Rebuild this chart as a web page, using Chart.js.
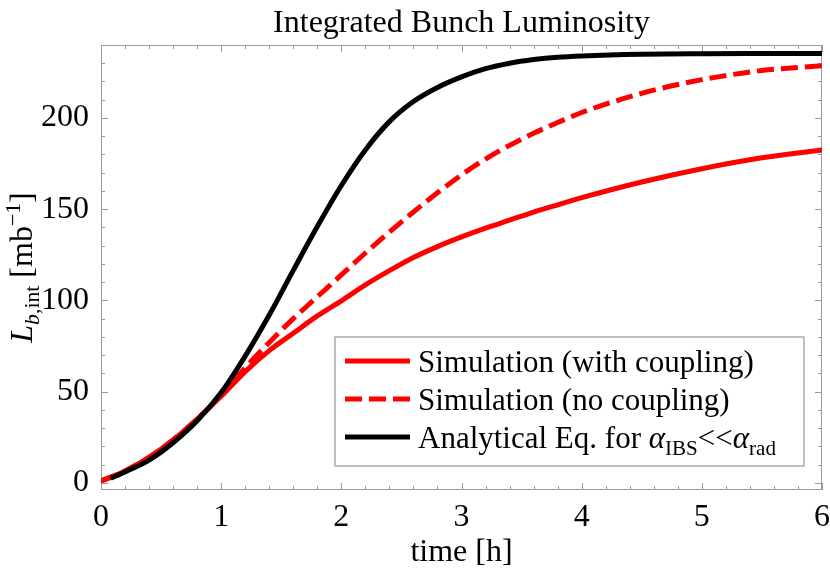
<!DOCTYPE html>
<html>
<head>
<meta charset="utf-8">
<script src="https://cdn.jsdelivr.net/npm/chart.js@4.4.1/dist/chart.umd.min.js"></script>
<style>
  body { margin: 0; background: #fff; }
</style>
</head>
<body>
<canvas id="lumiChart" width="830" height="575"></canvas>
<script>
// Zeitachse der Simulationen in Stunden
const timeSim = [0, 0.2, 0.4, 0.6, 0.8, 1.0, 1.2, 1.4, 1.6, 1.8, 2.0, 2.2, 2.4, 2.6, 2.8, 3.0, 3.2, 3.4, 3.6, 3.8, 4.0, 4.5, 5.0, 5.5, 6.0];
// Simulation mit Kopplung (rot, durchgezogen)
const withCoupling = [1, 6.5, 14, 23.5, 35, 47.5, 61, 72.5, 82, 91.5, 99.8, 108.5, 116.3, 123.5, 129.5, 134.8, 139.6, 144, 148.4, 152.4, 156.3, 164.9, 172.2, 178.2, 182.5];
// Simulation ohne Kopplung (rot, gestrichelt)
const noCoupling = [1, 6.5, 14, 23.5, 35, 48, 63, 77, 90, 102, 114, 126, 137.5, 148.5, 159, 168.8, 177.5, 185, 191.6, 197.5, 203, 213.5, 221, 226, 228.7];
// analytische Kurve (schwarz), beginnt etwas spaeter
const timeAna = [0.08, 0.2, 0.4, 0.6, 0.8, 1.0, 1.2, 1.4, 1.6, 1.8, 2.0, 2.2, 2.4, 2.6, 2.8, 3.0, 3.2, 3.4, 3.6, 3.8, 4.0, 4.5, 5.0, 5.5, 6.0];
const analytical = [2.5, 6, 12.5, 22, 34, 49.5, 69.5, 92, 116.5, 140.5, 163, 182.5, 198, 209, 216.7, 222.5, 227, 230, 232, 233.3, 234, 234.9, 235.2, 235.3, 235.4];

const xTicks = [0, 1, 2, 3, 4, 5, 6];
const yTicks = [0, 50, 100, 150, 200];

// Legendentexte in Teilen, damit Indizes klein gesetzt werden koennen
const legendParts = [
  [{ t: 'Simulation (with coupling)' }],
  [{ t: 'Simulation (no coupling)' }],
  [{ t: 'Analytical Eq. for ' }, { t: 'α', i: true }, { t: 'IBS', sub: true }, { t: '<<' }, { t: 'α', i: true }, { t: 'rad', sub: true }]
];
const yTitleParts = [{ t: 'L', i: true }, { t: 'b', i: true, sub: true }, { t: ',int', sub: true }, { t: ' [mb' }, { t: '−1', sup: true }, { t: ']' }];

const serif = '"Liberation Serif", "Times New Roman", serif';
const frameColor = '#9a9a9a';


function partFont(p, size) {
  let s = (p.sub || p.sup) ? size * 0.68 : size;
  return (p.i ? 'italic ' : '') + s + 'px ' + serif;
}


// zeichnet Text mit tief- und hochgestellten Teilen
function drawRich(c, parts, x, y, size, align) {
  let total = 0;
  parts.forEach(p => { c.font = partFont(p, size); total += c.measureText(p.t).width; });
  let cx = align === 'center' ? x - total / 2 : x;
  c.textAlign = 'left';
  c.textBaseline = 'alphabetic';
  parts.forEach(p => {
    c.font = partFont(p, size);
    let dy = p.sub ? size * 0.22 : (p.sup ? -size * 0.38 : 0);
    c.fillText(p.t, cx, y + dy);
    cx += c.measureText(p.t).width;
  });
}


function toPoints(xs, ys) {
  return xs.map((x, i) => ({ x: x, y: ys[i] }));
}


// Rahmen mit nach innen zeigenden Ticks (wie in Mathematica)
const framePlugin = {
  id: 'frame',
  beforeDatasetsDraw(chart) {
    const c = chart.ctx;
    const a = chart.chartArea;
    const xs = chart.scales.x;
    const ys = chart.scales.y;
    c.save();
    c.strokeStyle = frameColor;
    c.lineWidth = 1;
    c.strokeRect(a.left + 0.5, a.top + 0.5, a.right - a.left - 1, a.bottom - a.top - 1);
    c.beginPath();
    for (let v = 0; v <= 6.001; v += 0.2) {
      let major = Math.abs(v - Math.round(v)) < 0.01;
      let len = major ? 7 : 4;
      let px = Math.round(xs.getPixelForValue(v)) + 0.5;
      c.moveTo(px, a.bottom); c.lineTo(px, a.bottom - len);
      c.moveTo(px, a.top); c.lineTo(px, a.top + len);
    }
    for (let v = 0; v <= 240; v += 10) {
      let major = v % 50 === 0;
      let len = major ? 7 : 4;
      let py = Math.round(ys.getPixelForValue(v)) + 0.5;
      c.moveTo(a.left, py); c.lineTo(a.left + len, py);
      c.moveTo(a.right, py); c.lineTo(a.right - len, py);
    }
    c.stroke();
    c.restore();
  },
  afterDatasetsDraw(chart) {
    const c = chart.ctx;
    const a = chart.chartArea;
    c.save();
    c.fillStyle = '#000';
    // Titel
    drawRich(c, [{ t: 'Integrated Bunch Luminosity' }], (a.left + a.right) / 2, 32, 32, 'center');
    // x-Achsentitel
    drawRich(c, [{ t: 'time [h]' }], (a.left + a.right) / 2, 561, 32, 'center');
    // y-Achsentitel, gedreht
    c.save();
    c.translate(32, (a.top + a.bottom) / 2);
    c.rotate(-Math.PI / 2);
    drawRich(c, yTitleParts, 0, 0, 32, 'center');
    c.restore();

    // Legende
    const box = { l: 335, t: 337, r: 804, b: 466 };
    c.fillStyle = '#fff';
    c.fillRect(box.l, box.t, box.r - box.l, box.b - box.t);
    c.strokeStyle = '#aaaaaa';
    c.lineWidth = 1.5;
    c.strokeRect(box.l, box.t, box.r - box.l, box.b - box.t);
    chart.data.datasets.forEach((ds, i) => {
      let rowY = 361 + i * 38;
      c.strokeStyle = ds.borderColor;
      c.lineWidth = ds.borderWidth;
      c.setLineDash(ds.borderDash || []);
      c.beginPath();
      c.moveTo(345, rowY);
      c.lineTo(410, rowY);
      c.stroke();
      c.setLineDash([]);
      c.fillStyle = '#000';
      drawRich(c, legendParts[i], 418, rowY + 11, 31, 'left');
    });
    c.restore();
  }
};


new Chart(document.getElementById('lumiChart'), {
  type: 'line',
  data: {
    datasets: [
      {
        label: 'Simulation (with coupling)',
        data: toPoints(timeSim, withCoupling),
        borderColor: '#ff0000',
        borderWidth: 5,
        order: 2
      },
      {
        label: 'Simulation (no coupling)',
        data: toPoints(timeSim, noCoupling),
        borderColor: '#ff0000',
        borderWidth: 5,
        borderDash: [17, 7],
        order: 1
      },
      {
        label: 'Analytical Eq. for αIBS<<αrad',
        data: toPoints(timeAna, analytical),
        borderColor: '#000000',
        borderWidth: 5,
        order: 0
      }
    ]
  },
  options: {
    responsive: false,
    animation: false,
    devicePixelRatio: 1,
    layout: { padding: { top: 45, right: 7, left: 0, bottom: 0 } },
    elements: {
      point: { radius: 0 },
      line: { cubicInterpolationMode: 'monotone', borderCapStyle: 'butt', fill: false }
    },
    plugins: {
      legend: { display: false },
      tooltip: { enabled: false },
      title: { display: false }
    },
    scales: {
      x: {
        type: 'linear',
        min: 0,
        max: 6,
        grid: { display: false },
        border: { display: false },
        afterFit(scale) { scale.height = 85; },
        afterBuildTicks(scale) { scale.ticks = xTicks.map(v => ({ value: v })); },
        ticks: { font: { family: serif, size: 32 }, color: '#000', padding: 0, maxRotation: 0 }
      },
      y: {
        type: 'linear',
        min: -3.9,
        max: 240,
        grid: { display: false },
        border: { display: false },
        afterFit(scale) { scale.width = 101; },
        afterBuildTicks(scale) { scale.ticks = yTicks.map(v => ({ value: v })); },
        ticks: { font: { family: serif, size: 32 }, color: '#000', padding: 4 }
      }
    }
  },
  plugins: [framePlugin]
});
</script>
</body>
</html>
